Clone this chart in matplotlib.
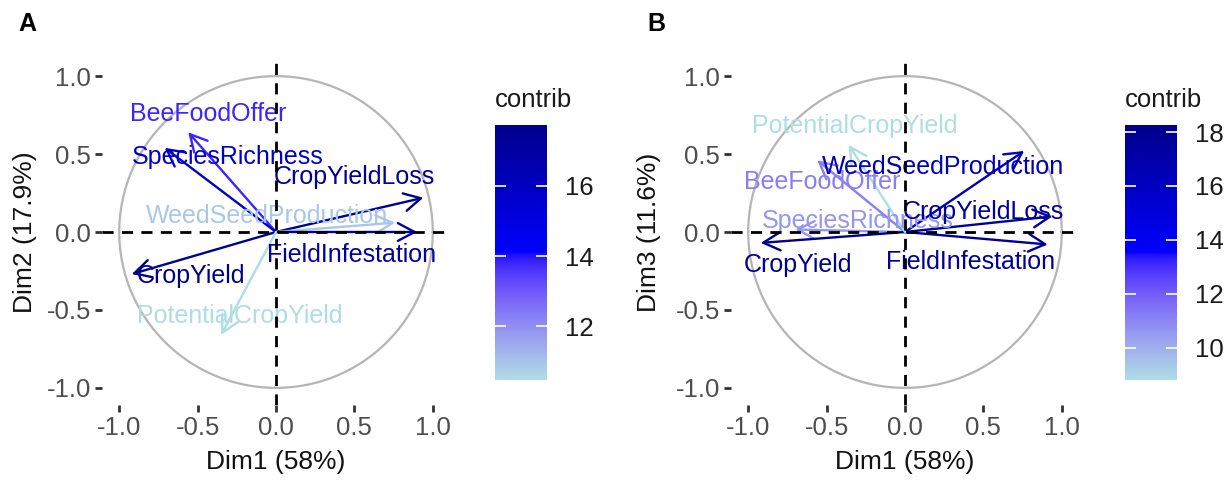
import numpy as np
import matplotlib
matplotlib.use("Agg")
import matplotlib.pyplot as plt
from matplotlib.colors import ListedColormap, Normalize, to_rgb
from matplotlib.cm import ScalarMappable

plt.rcParams['font.family'] = ['Liberation Sans', 'DejaVu Sans']

# ---------------- data ----------------
variables = ["BeeFoodOffer", "SpeciesRichness", "CropYieldLoss", "WeedSeedProduction",
             "FieldInfestation", "CropYield", "PotentialCropYield"]

# Panel A: Dim1 vs Dim2
a_x = [-0.56, -0.71, 0.94, 0.76, 0.90, -0.92, -0.35]
a_y = [0.64, 0.54, 0.22, 0.06, 0.00, -0.27, -0.66]
a_contrib = [13.8, 15.8, 17.5, 10.9, 17.0, 17.74, 10.46]
a_xlabel = "Dim1 (58%)"
a_ylabel = "Dim2 (17.9%)"
a_cticks = [12, 14, 16]

# Panel B: Dim1 vs Dim3
b_x = [-0.56, -0.70, 0.94, 0.76, 0.91, -0.92, -0.36]
b_y = [0.46, 0.016, 0.10, 0.52, -0.08, -0.07, 0.56]
b_contrib = [11.2, 10.6, 17.5, 16.5, 17.8, 18.26, 8.81]
b_xlabel = "Dim1 (58%)"
b_ylabel = "Dim3 (11.6%)"
b_cticks = [10, 12, 14, 16, 18]

tick_vals = [-1.0, -0.5, 0.0, 0.5, 1.0]
tick_labels = ["-1.0", "-0.5", "0.0", "0.5", "1.0"]

# label placement (centre of each text, data units)
a_label_pos = {"BeeFoodOffer": (-0.43, 0.76), "SpeciesRichness": (-0.31, 0.48),
               "CropYieldLoss": (0.50, 0.355), "WeedSeedProduction": (-0.06, 0.105),
               "FieldInfestation": (0.48, -0.15), "CropYield": (-0.54, -0.285),
               "PotentialCropYield": (-0.23, -0.54)}
b_label_pos = {"BeeFoodOffer": (-0.53, 0.32), "SpeciesRichness": (-0.30, 0.07),
               "CropYieldLoss": (0.50, 0.13), "WeedSeedProduction": (0.24, 0.42),
               "FieldInfestation": (0.42, -0.19), "CropYield": (-0.68, -0.21),
               "PotentialCropYield": (-0.32, 0.68)}

# ---------------- colormap (Lab interpolation, like ggplot) ----------------
_M = np.array([[0.4124, 0.3576, 0.1805], [0.2126, 0.7152, 0.0722], [0.0193, 0.1192, 0.9505]])
_W = np.array([0.95047, 1.0, 1.08883])


def rgb2lab(c):
    c = np.asarray(c, float)
    lin = np.where(c <= 0.04045, c / 12.92, ((c + 0.055) / 1.055) ** 2.4)
    xyz = _M @ lin / _W
    f = np.where(xyz > 0.008856, np.cbrt(xyz), 7.787 * xyz + 16 / 116)
    return np.array([116 * f[1] - 16, 500 * (f[0] - f[1]), 200 * (f[1] - f[2])])


def lab2rgb(lab):
    L, a, b = lab
    fy = (L + 16) / 116
    fx = fy + a / 500
    fz = fy - b / 200
    f = np.array([fx, fy, fz])
    xyz = np.where(f ** 3 > 0.008856, f ** 3, (f - 16 / 116) / 7.787) * _W
    lin = np.linalg.solve(_M, xyz)
    lin = np.clip(lin, 0, 1)
    c = np.where(lin <= 0.0031308, 12.92 * lin, 1.055 * lin ** (1 / 2.4) - 0.055)
    return np.clip(c, 0, 1)


stops = ["#AEDDE5", "#0000FF", "#00008B"]
labs = [rgb2lab(to_rgb(s)) for s in stops]
cols = []
for t in np.linspace(0, 1, 256):
    if t <= 0.5:
        u = t / 0.5
        lab = labs[0] * (1 - u) + labs[1] * u
    else:
        u = (t - 0.5) / 0.5
        lab = labs[1] * (1 - u) + labs[2] * u
    cols.append(lab2rgb(lab))
cmap = ListedColormap(cols)

# ---------------- figure ----------------
fig = plt.figure(figsize=(12.3, 4.8), dpi=100)
W, H = 1230.0, 480.0


def panel(left_px, xs, ys, contrib, xlabel, ylabel, cticks, label_pos, cbar_left_px, ylab_x_px, letter, letter_x):
    ax = fig.add_axes([left_px / W, 1 - 405 / H, 348 / W, 346 / H])
    lim = 1.11
    ax.set_xlim(-lim, lim)
    ax.set_ylim(-lim, lim)
    for s in ax.spines.values():
        s.set_visible(False)
    ax.set_xticks(tick_vals)
    ax.set_xticklabels(tick_labels)
    ax.set_yticks(tick_vals)
    ax.set_yticklabels(tick_labels)
    ax.tick_params(length=5, width=2.0, color="#333333", labelcolor="#4D4D4D",
                   labelsize=18.5, pad=3)
    norm = Normalize(min(contrib), max(contrib))
    th = np.linspace(0, 2 * np.pi, 400)
    ax.plot(np.cos(th), np.sin(th), color="#B5B5B5", lw=1.6, zorder=1)
    for name, x, y, c in zip(variables, xs, ys, contrib):
        col = cmap(norm(c))
        ax.annotate("", xy=(x, y), xytext=(0, 0),
                    arrowprops=dict(arrowstyle="->,head_length=0.6,head_width=0.32",
                                    color=col, lw=1.7, mutation_scale=20,
                                    shrinkA=0, shrinkB=0), zorder=2)
        lx, ly = label_pos[name]
        ax.text(lx, ly, name, color=col, fontsize=18, ha="center", va="center", zorder=3)
    ax.axhline(0, color="black", lw=2.0, ls=(0, (4, 3)), zorder=4)
    ax.axvline(0, color="black", lw=2.0, ls=(0, (4, 3)), zorder=4)
    fig.text((left_px + 174) / W, 1 - 462 / H, xlabel, fontsize=19, color="#111111",
             ha="center", va="center")
    fig.text(ylab_x_px / W, 1 - 232 / H, ylabel, fontsize=19, color="#111111",
             ha="center", va="center", rotation=90)
    fig.text(letter_x / W, 1 - 24 / H, letter, fontsize=18, fontweight="bold",
             ha="left", va="center")

    cax = fig.add_axes([cbar_left_px / W, 1 - 380 / H, 52 / W, 255 / H])
    sm = ScalarMappable(norm=norm, cmap=cmap)
    cb = fig.colorbar(sm, cax=cax, ticks=cticks)
    cb.outline.set_visible(False)
    cax.tick_params(axis="y", direction="in", length=8, width=1.2, color="white",
                    left=True, right=True, labelleft=False, labelright=True,
                    labelsize=18.5, labelcolor="#1A1A1A", pad=13)
    fig.text(cbar_left_px / W, 1 - 100 / H, "contrib", fontsize=18.5, color="#1A1A1A",
             ha="left", va="center")
    return ax


panel(102, a_x, a_y, a_contrib, a_xlabel, a_ylabel, a_cticks, a_label_pos, 495, 25, "A", 18)
panel(731, b_x, b_y, b_contrib, b_xlabel, b_ylabel, b_cticks, b_label_pos, 1125, 649, "B", 647)

fig.savefig("out.png", dpi=100)
